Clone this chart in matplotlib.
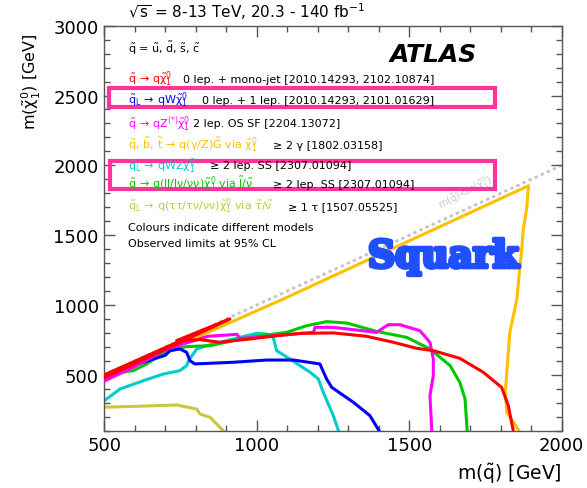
import matplotlib
matplotlib.use("Agg")
import matplotlib.pyplot as plt
from matplotlib.patches import Rectangle
from matplotlib.ticker import MultipleLocator
import matplotlib.patheffects as pe

plt.rcParams['font.family'] = ['DejaVu Sans']
plt.rcParams['mathtext.default'] = 'regular'

# Exclusion contours (m(squark), m(neutralino)) in GeV
red_x = [500, 912, 737, 814, 879, 978, 1065, 1142, 1251, 1360, 1448, 1524, 1579, 1666, 1743, 1803, 1825, 1841]
red_y = [478, 900, 745, 752, 733, 757, 780, 797, 800, 776, 733, 690, 673, 618, 518, 410, 279, 100]
red_band_x = [500, 905]
red_band_y = [500, 895]

blue_x = [500, 595, 650, 700, 716, 748, 770, 781, 797, 923, 1033, 1120, 1207, 1229, 1246, 1317, 1371, 1401]
blue_y = [495, 566, 605, 640, 673, 685, 661, 601, 578, 590, 606, 606, 578, 470, 410, 303, 208, 100]

magenta_x = [500, 595, 705, 759, 840, 935, 945, 1000, 1186, 1191, 1251, 1393, 1431, 1470, 1535, 1568, 1579, 1579, 1568, 1574]
magenta_y = [455, 554, 685, 721, 776, 790, 760, 768, 804, 840, 840, 804, 859, 859, 816, 733, 613, 494, 351, 100]

gold_x = [500, 1087, 1891, 1885, 1874, 1869, 1853, 1830, 1815, 1820, 1860]
gold_y = [475, 1043, 1854, 1687, 1544, 1401, 1043, 805, 375, 232, 100]

cyan_x = [500, 552, 628, 694, 748, 770, 776, 803, 836, 901, 967, 1000, 1033, 1054, 1065, 1109, 1175, 1202, 1218, 1251, 1268]
cyan_y = [315, 399, 458, 506, 530, 566, 601, 685, 709, 745, 780, 797, 792, 768, 673, 613, 518, 470, 375, 208, 100]

green_x = [500, 595, 639, 705, 770, 847, 923, 1000, 1098, 1164, 1229, 1295, 1393, 1492, 1568, 1634, 1666, 1683, 1690]
green_y = [500, 530, 578, 673, 702, 709, 745, 776, 804, 852, 881, 871, 811, 768, 685, 566, 446, 327, 100]

olive_x = [500, 595, 737, 803, 814, 847, 890]
olive_y = [268, 274, 284, 255, 219, 196, 100]

diag = [500, 2000]

# Legend entries: coloured decay part and the analysis it comes from
legend_models = [
    r'$\tilde{q}\,\rightarrow\,q\tilde{\chi}^{0}_{1}$',
    r'$\tilde{q}_{L}\,\rightarrow\,qW\tilde{\chi}^{0}_{1}$',
    r'$\tilde{q}\,\rightarrow\,qZ^{(*)}\tilde{\chi}^{0}_{1}$',
    r'$\tilde{q},\,\tilde{b},\,\tilde{t}\,\rightarrow\,q(\gamma/Z)\tilde{G}$ via $\tilde{\chi}^{0}_{1}$',
    r'$\tilde{q}_{L}\,\rightarrow\,qWZ\tilde{\chi}^{0}_{1}$',
    r'$\tilde{q}\,\rightarrow\,q(ll/l\nu/\nu\nu)\tilde{\chi}^{0}_{1}$ via $\tilde{l}/\tilde{\nu}$',
    r'$\tilde{q}_{L}\,\rightarrow\,q(\tau\tau/\tau\nu/\nu\nu)\tilde{\chi}^{0}_{1}$ via $\tilde{\tau}/\tilde{\nu}$',
]
legend_refs = [
    '0 lep. + mono-jet [2010.14293, 2102.10874]',
    '0 lep. + 1 lep. [2010.14293, 2101.01629]',
    '2 lep. OS SF [2204.13072]',
    '\u2265 2 \u03b3 [1802.03158]',
    '\u2265 2 lep. SS [2307.01094]',
    '\u2265 2 lep. SS [2307.01094]',
    '\u2265 1 \u03c4 [1507.05525]',
]

RED = '#ff0000'
BLUE = '#0000ff'
MAGENTA = '#ff00ff'
GOLD = '#ffc000'
CYAN = '#00cccc'
GREEN = '#00c800'
OLIVE = '#c8c83c'
PINK = '#ff3399'
legend_colors = [RED, BLUE, MAGENTA, GOLD, CYAN, GREEN, OLIVE]

fig = plt.figure(figsize=(5.87, 4.89), dpi=100)
ax = fig.add_axes([0.1777, 0.1172, 0.7792, 0.8282])


def px_x(px):
    return (px - 104.3) / 457.4


def px_y(py):
    return (431.7 - py) / 405.0


lw = 2.2
ax.plot(diag, diag, color='#c4c4c4', lw=2, ls=(0, (1.2, 1.2)), zorder=1)
ax.plot(olive_x, olive_y, color=OLIVE, lw=lw, zorder=2)
ax.plot(gold_x, gold_y, color=GOLD, lw=lw, zorder=2)
ax.plot(cyan_x, cyan_y, color=CYAN, lw=lw, zorder=2)
ax.plot(blue_x, blue_y, color=BLUE, lw=lw, zorder=3)
ax.plot(green_x, green_y, color=GREEN, lw=lw, zorder=2)
ax.plot(magenta_x, magenta_y, color=MAGENTA, lw=lw, zorder=3)
ax.plot(red_x, red_y, color=RED, lw=lw, zorder=4)
ax.plot(red_band_x, red_band_y, color=RED, lw=lw, zorder=4)

ax.text(1683, 1809, r'm($\tilde{q}$)<m($\tilde{\chi}^{0}_{1}$)', color='#c8c8c8',
        fontsize=7, rotation=27, ha='center', va='center', zorder=1)

ax.set_xlim(500, 2000)
ax.set_ylim(100, 3000)
ax.xaxis.set_major_locator(MultipleLocator(500))
ax.xaxis.set_minor_locator(MultipleLocator(100))
ax.yaxis.set_major_locator(MultipleLocator(500))
ax.yaxis.set_minor_locator(MultipleLocator(100))
ax.tick_params(which='both', direction='in', top=True, right=True, color='#555555',
               labelsize=13, pad=4)
ax.tick_params(which='major', length=8, width=1)
ax.tick_params(which='minor', length=4.5, width=1)
for s in ax.spines.values():
    s.set_color('#555555')
    s.set_linewidth(1)

ax.set_xlabel(r'm($\tilde{q}$) [GeV]', fontsize=13.5, loc='right')
ax.xaxis.set_label_coords(1.0, -0.075)
ax.set_ylabel(r'm($\tilde{\chi}^{0}_{1}$) [GeV]', fontsize=11.5, loc='top')
ax.yaxis.set_label_coords(-0.135, 0.983)

fig.text(128 / 587, (489 - 18.3) / 489, r'$\sqrt{s}$ = 8-13 TeV, 20.3 - 140 fb$^{-1}$',
         fontsize=11, ha='left', va='baseline')

ax.text(px_x(390), px_y(61.7), 'ATLAS', fontsize=18, fontweight='bold', fontstyle='italic',
        transform=ax.transAxes, ha='left', va='baseline')

ax.text(px_x(128), px_y(53.3), r'$\tilde{q}$ = $\tilde{u}$, $\tilde{d}$, $\tilde{s}$, $\tilde{c}$',
        fontsize=8, transform=ax.transAxes, ha='left', va='baseline')

ref_start = [183, 202, 193, 273, 210, 273, 288]
baselines = [82.7, 104, 127.3, 149.3, 169.3, 188.3, 210]
for model, ref, col, x0, y0 in zip(legend_models, legend_refs, legend_colors, ref_start, baselines):
    z = 2 if col == RED else 6
    ax.text(px_x(128), px_y(y0), model, color=col, fontsize=8, transform=ax.transAxes,
            ha='left', va='baseline', zorder=z)
    ax.text(px_x(x0), px_y(y0), ref, color='black', fontsize=8, transform=ax.transAxes,
            ha='left', va='baseline', zorder=z)

ax.text(px_x(128), px_y(230.7), 'Colours indicate different models', fontsize=8,
        transform=ax.transAxes, ha='left', va='baseline')
ax.text(px_x(128), px_y(246.7), 'Observed limits at 95% CL', fontsize=8,
        transform=ax.transAxes, ha='left', va='baseline')

# highlight boxes around the new results
ax.add_patch(Rectangle((px_x(109), px_y(108)), px_x(495) - px_x(109), px_y(89) - px_y(108),
                       transform=ax.transAxes, facecolor='white', edgecolor=PINK, lw=3, zorder=5))
ax.add_patch(Rectangle((px_x(110), px_y(190)), px_x(495) - px_x(110), px_y(162) - px_y(190),
                       transform=ax.transAxes, facecolor='none', edgecolor=PINK, lw=3, zorder=5))

ax.text(px_x(368), px_y(268.3), 'Squark', fontsize=27, fontfamily='DejaVu Serif', fontweight='bold',
        color='#1f4fff', transform=ax.transAxes, ha='left', va='baseline', zorder=7,
        path_effects=[pe.withStroke(linewidth=3, foreground='#1f4fff')])

fig.savefig('out.png', dpi=100)
